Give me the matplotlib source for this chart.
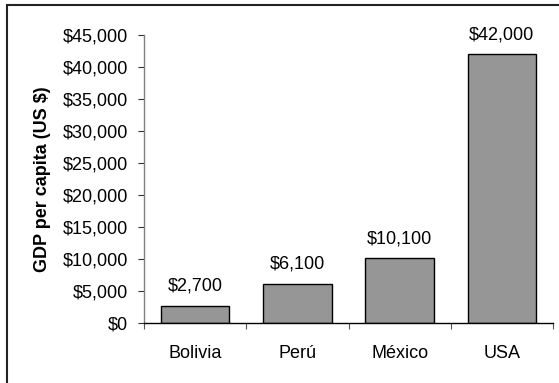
import numpy as np
import matplotlib
matplotlib.use('agg')
import matplotlib.pyplot as plt
from matplotlib.patches import Rectangle
from matplotlib.ticker import FuncFormatter

countries = ['Bolivia', 'Perú', 'México', 'USA']
gdp = [2700, 6100, 10100, 42000]
yticks = np.arange(0, 45001, 5000)

plt.rcParams['font.family'] = ['Liberation Sans', 'DejaVu Sans']
fs = 13

fig = plt.figure(figsize=(5.59, 3.83), dpi=100)
ax = fig.add_axes([144/559, 1-323/383, (553-144)/559, (323-35)/383])

# frame around the whole chart, running off the right and bottom edges
fig.patches.append(Rectangle((7/559, -0.1), 1.2, 1 - 5/383 + 0.1, transform=fig.transFigure,
                             fill=False, edgecolor='#222222', linewidth=1.5))

x = np.arange(len(countries))
ax.bar(x, gdp, width=0.67, color='#969696', edgecolor='black', linewidth=1.0)

for xi, v in zip(x, gdp):
    ax.annotate('${:,}'.format(v), (xi, v), xytext=(0, 8), textcoords='offset points',
                ha='center', va='bottom', fontsize=fs)

ax.set_xlim(-0.5, len(countries) - 0.5)
ax.set_ylim(0, 45000)
ax.set_yticks(yticks)
ax.yaxis.set_major_formatter(FuncFormatter(lambda v, p: '${:,.0f}'.format(v)))
ax.set_xticks(x)
ax.set_xticklabels(countries)
ax.set_xticks(np.arange(-0.5, len(countries)), minor=True)
ax.tick_params(axis='x', which='major', length=0, pad=16, labelsize=fs)
ax.tick_params(axis='x', which='minor', length=4.5, color='#555555', width=0.8)
ax.tick_params(axis='y', length=4.5, width=0.8, color='#333333', pad=7, labelsize=fs)

for s in ['top', 'right']:
    ax.spines[s].set_visible(False)
ax.spines['left'].set_color('#808080')
ax.spines['bottom'].set_color('black')
ax.spines['left'].set_linewidth(1.0)
ax.spines['bottom'].set_linewidth(1.0)

ax.set_ylabel('GDP per capita (US $)', fontsize=fs, fontweight='bold')
ax.yaxis.set_label_coords(-0.228, 0.5)

fig.savefig('out.png', dpi=100)
